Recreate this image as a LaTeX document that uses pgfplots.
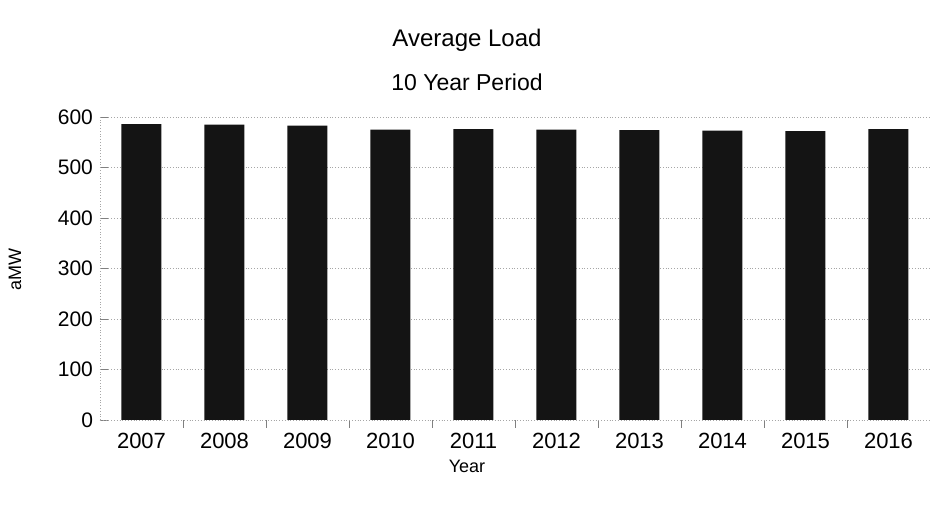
\documentclass[border=0pt]{standalone}
\usepackage{pgfplots}
\pgfplotsset{compat=1.18}
\usepackage{fontspec}
\setmainfont{Liberation Sans}
\begin{document}
\begin{tikzpicture}
\useasboundingbox (-50pt,-43pt) rectangle (416pt,210pt);
\begin{axis}[
  at={(0,0)}, anchor=south west,
  scale only axis, width=415pt, height=151.5pt,
  ybar, bar width=20pt,
  xmin=-0.5, xmax=9.5, ymin=0, ymax=600,
  ytick={0,100,...,600},
  xtick={0,...,9},
  xticklabels={2007,2008,2009,2010,2011,2012,2013,2014,2015,2016},
  minor xtick={0.5,1.5,...,8.5},
  x tick style={draw=none},
  minor x tick style={draw=gray, thin},
  minor tick length=4pt,
  y tick style={draw=gray, thin},
  major tick length=4pt,
  ymajorgrids, grid style={gray!70, densely dotted, thin},
  axis x line*=bottom, axis y line*=left,
  axis line style={gray!70, densely dotted, thin},
  yticklabel style={font=\fontsize{10.5}{12}\selectfont},
  xticklabel style={font=\fontsize{11}{13}\selectfont, yshift=1pt},
  /pgf/number format/assume math mode=true,
  enlarge x limits=false,
]
\addplot[fill=black!92, draw=none] coordinates {
(0,586) (1,585) (2,583) (3,575) (4,576) (5,575) (6,574) (7,573) (8,572) (9,576)
};
\end{axis}
\node[font=\fontsize{12}{14}\selectfont] at (183.5pt,190pt) {Average Load};
\node[font=\fontsize{11.5}{13}\selectfont] at (183.5pt,169pt) {10 Year Period};
\node[font=\fontsize{9}{11}\selectfont] at (183.5pt,-23pt) {Year};
\node[font=\fontsize{9}{11}\selectfont, rotate=90] at (-42.5pt,75pt) {aMW};
\end{tikzpicture}
\end{document}
